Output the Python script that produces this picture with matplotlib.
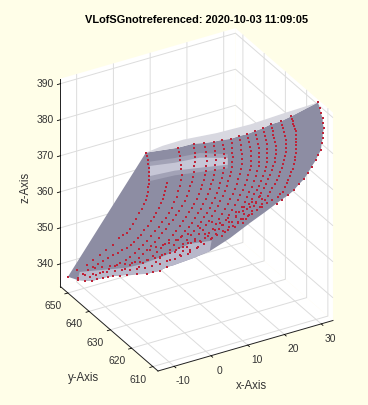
import numpy as np
import matplotlib
matplotlib.use('Agg')
import matplotlib.pyplot as plt
from mpl_toolkits.mplot3d.art3d import Poly3DCollection
from mpl_toolkits.mplot3d import proj3d

plt.rcParams['font.family'] = ['Liberation Sans', 'DejaVu Sans']

TITLE = 'VLofSGnotreferenced: 2020-10-03 11:09:05'
x_ticks = [-10, 0, 10, 20, 30]
y_ticks = [610, 620, 630, 640, 650]
z_ticks = [340, 350, 360, 370, 380, 390]
x_lim = (-14.4, 33.2)
y_lim = (607.6, 653.5)
z_lim = (333.7, 391.4)

# measured curves: (y value, x values, z values)
L0 = (650, [6.8,7.0,7.3,7.3,7.6,7.6,7.6,7.6,7.6,7.3,7.3,7.0,6.8,6.2,5.7,4.9,4.0,3.2,2.4,1.6,0.5,-0.6,-2.2,-4.1,-5.7,-7.6,-9.3,-12.0,-14.4],
      [366.4,365.5,364.3,363.2,362.0,360.9,359.8,358.7,357.6,356.6,355.4,354.4,353.4,352.4,351.2,350.1,348.9,347.7,346.6,345.7,345.5,345.0,343.5,342.7,341.8,340.9,340.0,339.4,338.2])
L1 = (647, [10.7,10.5,10.2,9.9,9.6,9.1,8.6,7.9,7.2,6.4,5.6,4.7,3.7,2.8,1.8,0.9,-0.1,-1.4,-2.6,-4.0,-5.3,-6.7,-8.0,-9.3,-10.7,-12.0,-13.4],
      [358.5,357.4,356.4,355.3,354.3,353.2,352.1,351.0,350.0,349.0,348.0,347.0,346.1,345.4,344.7,344.1,343.6,343.2,342.9,342.6,342.3,341.8,341.4,340.9,340.5,339.8,339.1])
L2 = (644, [12.0,12.3,12.5,12.7,12.8,13.0,13.1,12.8,12.5,12.1,11.7,11.1,10.4,9.6,8.7,7.8,6.8,5.8,4.7,3.6,2.5,1.4,0.3,-0.9,-2.1,-3.6,-5.1,-6.8,-8.4,-10.2,-11.9],
      [369.3,368.1,366.9,365.7,364.4,363.0,361.5,360.0,358.6,357.2,355.8,354.4,353.1,351.9,350.8,349.8,348.9,347.9,347.0,346.0,345.1,344.3,343.6,342.9,342.3,341.9,341.5,341.1,340.8,340.6,340.5])
L3 = (640, [14.0,14.2,14.3,14.3,14.3,14.2,14.0,13.8,13.5,13.1,12.7,12.2,11.6,10.8,10.0,9.2,8.3,7.4,6.4,5.5,4.5,3.5,2.4,1.3,0.2,-0.9,-2.0,-3.4,-4.7],
      [371.9,370.6,369.3,368.0,366.8,365.5,364.1,362.8,361.4,360.3,359.2,358.0,356.7,355.6,354.4,353.4,352.4,351.5,350.5,349.5,348.5,347.7,346.9,346.1,345.3,344.5,343.7,343.2,342.6])
L4 = (637, [15.0,15.3,15.6,15.7,15.8,15.7,15.6,15.3,15.0,14.6,14.2,13.7,13.1,12.5,11.8,11.0,10.1,9.3,8.5,7.6,6.6,5.5,4.4,3.4,2.3,1.1,-0.2,-1.4,-2.6],
      [373.3,372.0,370.7,369.4,368.1,366.8,365.4,364.2,363.1,361.9,360.8,359.5,358.3,357.2,356.2,355.2,354.2,353.2,352.2,351.2,350.2,349.3,348.4,347.6,346.8,346.0,345.3,344.7,344.1])
L5 = (634, [16.0,16.2,16.3,16.5,16.6,16.5,16.3,16.1,15.8,15.4,14.9,14.4,13.8,13.2,12.5,11.7,10.9,10.1,9.2,8.3,7.3,6.3,5.2,4.0,2.7,1.5,0.3],
      [374.9,373.6,372.3,371.0,369.7,368.4,367.0,365.7,364.4,363.3,362.1,360.9,359.6,358.5,357.3,356.3,355.2,354.2,353.2,352.3,351.3,350.4,349.4,348.5,347.6,346.9,346.1])
L6 = (631, [16.5,16.8,17.0,17.2,17.3,17.2,17.0,16.8,16.5,16.1,15.6,15.1,14.6,13.9,13.2,12.4,11.6,10.8,9.9,9.0,8.0,7.0,5.9,4.8,3.7],
      [376.8,375.4,374.1,372.8,371.5,370.2,368.8,367.5,366.2,364.9,363.7,362.4,361.2,360.0,358.8,357.8,356.8,355.8,354.8,353.8,352.8,351.9,351.0,350.2,349.4])
L7 = (628, [17.2,17.4,17.5,17.6,17.7,17.6,17.5,17.2,16.9,16.5,16.1,15.6,15.0,14.3,13.6,12.8,12.0,11.2,10.4,9.5,8.5,7.4,6.3,5.2,4.1],
      [378.4,377.1,375.8,374.5,373.2,371.8,370.5,369.3,368.2,366.9,365.6,364.4,363.2,362.0,360.8,359.6,358.5,357.5,356.5,355.5,354.5,353.5,352.6,351.8,351.1])
L8 = (625, [17.6,17.9,18.2,18.3,18.4,18.4,18.4,18.2,17.9,17.5,17.1,16.6,16.0,15.3,14.6,13.8,13.0,12.2,11.4,10.5,9.5,8.4,7.3],
      [380.6,379.3,377.9,376.6,375.3,374.0,372.6,371.2,369.9,368.7,367.4,366.2,364.9,363.7,362.6,361.4,360.3,359.1,358.0,357.0,356.0,355.1,354.2])
L9 = (622, [18.1,18.3,18.6,18.9,19.2,19.2,19.2,19.1,18.9,18.5,18.1,17.6,17.0,16.3,15.6,14.8,14.0,13.2,12.4,11.5,10.5,9.6,8.6],
      [382.5,381.3,380.1,378.8,377.5,376.1,374.7,373.5,372.3,371.0,369.7,368.5,367.3,366.1,364.9,363.8,362.6,361.5,360.3,359.3,358.3,357.4,356.4])
L10 = (620, [19.1,19.3,19.6,19.9,20.2,20.2,20.2,20.2,20.2,19.8,19.4,18.9,18.3,17.6,16.9,16.3,15.6,14.8,13.9,13.0,12.0,11.1,10.1],
       [384.1,382.9,381.7,380.4,379.0,377.8,376.5,375.2,374.0,372.8,371.5,370.2,368.8,367.6,366.4,365.2,364.0,362.9,361.7,360.6,359.5,358.5,357.5])
L11 = (618, [20.1,20.4,20.7,21.0,21.2,21.2,21.2,21.2,21.2,21.0,20.7,20.2,19.6,19.1,18.5,17.8,17.1,16.5,15.8,15.0,14.1,13.3,12.5],
       [385.6,384.4,383.2,382.0,380.8,379.6,378.3,377.0,375.8,374.6,373.5,372.2,371.0,370.0,368.9,367.9,366.8,365.6,364.4,363.4,362.3,361.3,360.3])
L12 = (616, [21.1,21.4,21.7,21.8,21.9,22.2,22.5,22.5,22.5,22.4,22.2,21.8,21.4,20.9,20.3,19.8,19.2,18.6,17.9,17.2,16.5,15.9,15.2,14.4,13.5],
       [387.4,386.4,385.3,384.3,383.3,382.1,380.9,379.8,378.7,377.6,376.6,375.6,374.6,373.5,372.4,371.3,370.2,369.2,368.1,367.1,366.0,365.0,363.9,363.2,362.4])
L13 = (614, [22.7,23.0,23.2,23.5,23.8,24.0,24.1,24.1,24.1,23.8,23.5,23.3,23.0,22.6,22.2,21.7,21.1,20.4,19.7,19.1,18.4,17.7,17.0],
       [388.8,387.8,386.7,385.5,384.3,383.2,382.0,380.9,379.8,378.8,377.7,376.7,375.7,374.7,373.7,372.8,371.8,370.9,370.0,369.0,368.1,367.4,366.6])
L14 = (612, [24.3,24.6,24.8,25.0,25.1,25.4,25.6,25.6,25.6,25.6,25.6,25.6,25.6,25.5,25.4,25.1,24.8,24.4,24.0,23.6,23.2,22.7,22.1,21.4,20.7],
       [390.7,390.0,389.2,388.5,387.7,387.0,386.2,385.2,384.2,383.3,382.3,381.2,380.1,379.2,378.2,377.2,376.1,375.2,374.2,373.4,372.5,371.5,370.5,369.9,369.3])
L15 = (610, [30.5,31.0,31.3,31.8,31.8,32.1,31.8,31.8,31.5,31.3,30.5,29.9,28.8,27.7,26.7,25.3,23.9,22.3,20.7,19.3],
       [393.8,392.0,390.5,389.0,387.6,386.2,384.8,383.5,382.1,380.3,379.1,377.9,376.5,374.9,373.6,372.6,371.3,370.4,369.5,368.8])
E1 = (645, [-14.6,-12.7,-10.8,-9.3,-7.8,-6.5,-5.1,-3.2,-1.3,1.4,4.1,5.9,7.7,9.7],
      [339.9,339.2,338.5,338.5,338.5,338.4,338.2,337.8,337.4,336.8,336.1,336.0,335.9,336.4])
E2 = (622, [2.6,4.5,6.4,8.3,9.9,11.5,12.9,14.3,15.6,17.0,18.3,19.4,20.8,22.1,23.5,24.9],
      [354.3,354.8,355.4,356.2,356.8,357.5,357.4,358.1,358.8,359.2,359.7,359.9,360.6,361.0,361.8,362.2])
E3 = (622, [5.3,7.5,9.4,11.3,13.2,15.1,17.0,18.9,20.5,22.1],
      [356.5,357.3,358.4,359.2,359.5,360.6,361.4,362.0,362.6,363.3])
E4 = (645, [-12.7,-10.6,-8.6,-6.6,-4.6,-2.5,-0.5,1.5,3.6,5.6,7.7,9.7,11.8,13.5,15.3],
      [340.7,340.4,340.1,339.8,339.5,339.0,338.6,338.2,337.9,337.9,337.9,337.9,338.0,338.2,338.4])
E5 = (645, [-10.0,-8.0,-5.9,-3.9,-1.8,0.2,2.3,4.3,6.3,8.3,10.4,12.1,13.9,15.5,17.2],
      [341.9,341.6,341.3,341.0,340.6,340.3,340.0,340.0,339.9,340.0,340.1,340.5,340.8,341.2,341.5])
E6 = (645, [5.0,6.7,8.5,10.2,12.0,13.6,15.3,16.9,18.6,20.2,21.8],
      [342.5,342.7,342.9,343.0,343.2,343.6,344.0,344.3,344.7,345.0,345.4])
E7 = (622, [-2.0,3.4,8.0,13.5,18.9,23.0,27.0],
      [352.0,352.4,353.0,355.0,357.6,359.4,361.3])
E8 = (622, [6.7,8.8,10.7,12.9,15.1,17.3,19.4,21.6],
      [358.1,358.8,359.9,360.7,361.7,362.5,363.2,364.3])
E9 = (645, [7.7,10.4,13.1,15.8,18.0],
      [339.8,338.2,338.8,339.4,339.6])
# upper rim of the pale sheet
rim_y = [647, 644, 631, 620, 614]
rim_x = [9.6, 13.6, 15.1, 18.0, 23.5]
rim_z = [369.0, 371.1, 379.1, 386.3, 390.8]
# inner highlight strip
strip_y = 640
strip_x = [2.1, 8.9, 15.7, 23.3, 23.3, 15.7, 8.9, 2.1]
strip_z = [369.2, 368.1, 367.5, 365.2, 363.3, 364.7, 365.9, 366.4]
halo_z = [370.4, 369.4, 368.8, 366.2, 362.3, 363.5, 364.6, 365.0]
# upper limit of the pale lower sheet
pale_y = 645
pale_x = [-14.1, -1.3, 3.1, 9.0, 15.8, 21.8]
pale_z = [342.0, 339.4, 339.2, 339.7, 341.0, 340.1]

arcs = [L0, L1, L2, L3, L4, L5, L6, L7, L8, L9, L10, L11, L12, L13, L14, L15]
rows = [E1, E2, E3, E4, E5, E6, E8, E9]


def pts(curve):
    y, xs, zs = curve
    return [(a, y, b) for a, b in zip(xs, zs)]


fig = plt.figure(figsize=(3.68, 4.06), dpi=100, facecolor='#FFFEE8')
ax = fig.add_axes([0.05, 0.05, 0.9, 0.9], projection='3d', proj_type='ortho',
                  computed_zorder=False, facecolor='none')
ax.view_init(elev=30, azim=-120)
ax.set_xlim(*x_lim); ax.set_ylim(*y_lim); ax.set_zlim(*z_lim)
ax.set_box_aspect((202, 195, 240))

ax.set_xticks(x_ticks); ax.set_yticks(y_ticks); ax.set_zticks(z_ticks)
ax.set_xticklabels([]); ax.set_yticklabels([]); ax.set_zticklabels([])
for a in (ax.xaxis, ax.yaxis, ax.zaxis):
    a.set_pane_color((1, 1, 1, 1))
    a.pane.set_edgecolor('none')
    a.line.set_color('#202020')
    a.line.set_linewidth(0.7)
    a._axinfo['grid'].update(color='#DCDCDC', linewidth=0.7)
    a._axinfo['tick'].update(inward_factor=0.22, outward_factor=0.0, linewidth={True: 0.6, False: 0.5})

SHEET = '#8D8DA3'
top_edge = [pts(c)[0] for c in [L0, L2, L3, L4, L5, L6, L7, L8, L9, L10, L11, L12, L13, L14, L15]]
main_verts = top_edge + pts(L15)[1:-2] + pts(E7)[::-1] + pts(E1)[::-1] + pts(L0)[-1:]
ax.add_collection3d(Poly3DCollection([main_verts], facecolor=SHEET, edgecolor='none', zorder=2))

rim = [pts(L0)[0]] + list(zip(rim_x, rim_y, rim_z)) + [pts(L15)[0]] + top_edge[::-1][1:-1]
ax.add_collection3d(Poly3DCollection([rim], facecolor='#D8D8E0', edgecolor='none', zorder=3))

halo = [(a, strip_y, b) for a, b in zip(strip_x, halo_z)]
ax.add_collection3d(Poly3DCollection([halo], facecolor='#A2A2B6', edgecolor='none', zorder=3))
strip = [(a, strip_y, b) for a, b in zip(strip_x, strip_z)]
ax.add_collection3d(Poly3DCollection([strip], facecolor='#C6C6D6', edgecolor='none', zorder=3))

pale = [(a, pale_y, b) for a, b in zip(pale_x, pale_z)] + pts(E7)[2::-1] + pts(E1)[::-1]
ax.add_collection3d(Poly3DCollection([pale], facecolor='#B8B8CA', edgecolor='none', zorder=3))

for c in arcs + rows:
    p = np.array(pts(c))
    ax.scatter(p[:, 0], p[:, 1], p[:, 2], s=3.0, marker='s', c='#BE2439',
               linewidths=0, depthshade=False, zorder=5)

ax.set_xlim(*x_lim); ax.set_ylim(*y_lim); ax.set_zlim(*z_lim)


def corner_px(px, py, pz):
    u, v, _ = proj3d.proj_transform(px, py, pz, ax.get_proj())
    q = ax.transData.transform((u, v))
    return q[0], 406 - q[1]


# fit the box frame to the reference frame
fig.canvas.draw()
for _ in range(3):
    lf = corner_px(x_lim[0], y_lim[1], z_lim[0])
    rt = corner_px(x_lim[1], y_lim[0], z_lim[0])
    s = (333.0 - 60.5) / (rt[0] - lf[0])
    pos = ax.get_position(original=True)
    cx = pos.x0 + pos.width / 2
    cy = pos.y0 + pos.height / 2
    w = pos.width * s
    h = pos.height * s
    ax.set_position([cx - w / 2, cy - h / 2, w, h])
    fig.canvas.draw()
    fr = corner_px(x_lim[0], y_lim[0], z_lim[0])
    dx = (158.0 - fr[0]) / 368
    dy = (fr[1] - 372.0) / 406
    pos = ax.get_position(original=True)
    ax.set_position([pos.x0 + dx, pos.y0 + dy, pos.width, pos.height])
    fig.canvas.draw()


def tick_text(value, anchor, off_x, off_y):
    sx, sy = corner_px(*anchor)
    fig.text((sx + off_x) / 368, 1 - (sy + off_y) / 406, str(value), ha='center', va='center',
             fontsize=7.4, color='#333333')


for v in x_ticks:
    tick_text(v, (v, y_lim[0], z_lim[0]), 9, 14)
for v in y_ticks:
    tick_text(v, (x_lim[0], v, z_lim[0]), -15, 12)
for v in z_ticks:
    tick_text(v, (x_lim[0], y_lim[1], v), -15, -1)

fig.text(196.5 / 368, 1 - 20 / 406, TITLE, ha='center', va='center', fontsize=7.9,
         fontweight='bold', color='black')
fig.text(251 / 368, 1 - 386 / 406, 'x-Axis', ha='center', va='center', fontsize=8.3, color='#333333')
fig.text(84 / 368, 1 - 378 / 406, 'y-Axis', ha='center', va='center', fontsize=8.3, color='#333333')
fig.text(26 / 368, 1 - 187 / 406, 'z-Axis', ha='center', va='center', fontsize=8.3, rotation=90, color='#333333')

fig.savefig('out.png', dpi=100, facecolor=fig.get_facecolor())
